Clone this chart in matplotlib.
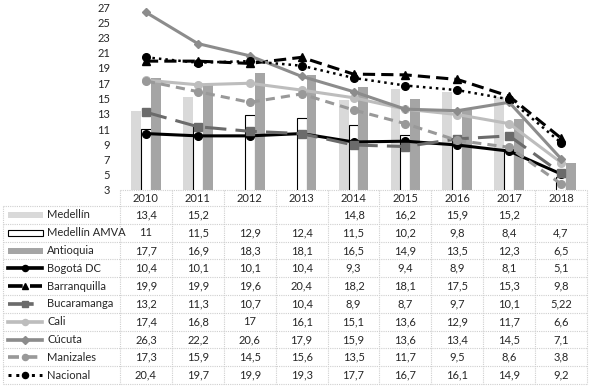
import matplotlib.pyplot as plt
import numpy as np
from matplotlib.patches import Rectangle

nan = np.nan
years = ["2010", "2011", "2012", "2013", "2014", "2015", "2016", "2017", "2018"]

medellin = [13.4, 15.2, nan, nan, 14.8, 16.2, 15.9, 15.2, nan]
medellin_amva = [11, 11.5, 12.9, 12.4, 11.5, 10.2, 9.8, 8.4, 4.7]
antioquia = [17.7, 16.9, 18.3, 18.1, 16.5, 14.9, 13.5, 12.3, 6.5]
bogota = [10.4, 10.1, 10.1, 10.4, 9.3, 9.4, 8.9, 8.1, 5.1]
barranquilla = [19.9, 19.9, 19.6, 20.4, 18.2, 18.1, 17.5, 15.3, 9.8]
bucaramanga = [13.2, 11.3, 10.7, 10.4, 8.9, 8.7, 9.7, 10.1, 5.22]
cali = [17.4, 16.8, 17, 16.1, 15.1, 13.6, 12.9, 11.7, 6.6]
cucuta = [26.3, 22.2, 20.6, 17.9, 15.9, 13.6, 13.4, 14.5, 7.1]
manizales = [17.3, 15.9, 14.5, 15.6, 13.5, 11.7, 9.5, 8.6, 3.8]
nacional = [20.4, 19.7, 19.9, 19.3, 17.7, 16.7, 16.1, 14.9, 9.2]

plt.rcParams["font.family"] = ["Lato", "DejaVu Sans"]
txt_color = "#262626"
grid_color = "#cfcfcf"
fs = 8

W, H = 589, 389
fig = plt.figure(figsize=(W / 100, H / 100), dpi=100)
left, right, top, bottom = 120, 587, 7, 190
ax = fig.add_axes([left / W, 1 - bottom / H, (right - left) / W, (bottom - top) / H])

x = np.arange(len(years))
bw = 0.19

# Bars
bar_styles = [
    ("Medellín", medellin, dict(facecolor="#d9d9d9", edgecolor="none")),
    ("Medellín AMVA", medellin_amva, dict(facecolor="white", edgecolor="black", linewidth=0.8)),
    ("Antioquia", antioquia, dict(facecolor="#a5a5a5", edgecolor="none")),
]
for i, (name, vals, st) in enumerate(bar_styles):
    ax.bar(x + (i - 1) * bw, vals, bw, zorder=1, **st)

# Lines
line_styles = [
    ("Bogotá DC", bogota, dict(color="black", lw=2.2, marker="o", ms=5.5)),
    ("Barranquilla", barranquilla, dict(color="black", lw=2.2, dashes=(4, 2), marker="^", ms=6)),
    ("Bucaramanga", bucaramanga, dict(color="#6b6b6b", lw=2.2, dashes=(7, 3), marker="s", ms=5.5)),
    ("Cali", cali, dict(color="#bdbdbd", lw=2.2, marker="o", ms=5.5)),
    ("Cúcuta", cucuta, dict(color="#8c8c8c", lw=2.2, marker="D", ms=4.5)),
    ("Manizales", manizales, dict(color="#999999", lw=2.2, dashes=(3, 2), marker="o", ms=5.5)),
    ("Nacional", nacional, dict(color="black", lw=1.8, dashes=(1, 1.6), marker="o", ms=5.5)),
]
for name, vals, st in line_styles:
    ax.plot(x, vals, zorder=3, **st)

ax.set_xlim(-0.5, len(years) - 0.5)
ax.set_ylim(3, 27)
ax.set_yticks(range(3, 28, 2))
ax.set_xticks([])
ax.tick_params(axis="y", length=0, labelsize=fs, labelcolor=txt_color, pad=7)
for s in ax.spines.values():
    s.set_visible(False)
ax.patch.set_alpha(0)

# Data table
tab = fig.add_axes([0, 0, 1, 1])
tab.set_xlim(0, W)
tab.set_ylim(H, 0)
tab.axis("off")

cw = (right - left) / len(years)
head_top, head_bot = bottom, 206
rh = (384 - head_bot) / 10
tleft = 3
gl = dict(color=grid_color, lw=0.8, ls=(0, (1, 1)))

tab.plot([left, right], [head_top, head_top], **gl)
for r in range(11):
    yy = head_bot + r * rh
    tab.plot([tleft, right], [yy, yy], **gl)
for c in range(len(years) + 1):
    xx = left + c * cw
    tab.plot([xx, xx], [head_top, head_bot + 10 * rh], **gl)
tab.plot([tleft, tleft], [head_bot, head_bot + 10 * rh], **gl)

for c, yr in enumerate(years):
    tab.text(left + (c + 0.5) * cw, (head_top + head_bot) / 2, yr,
             ha="center", va="center", fontsize=fs, color=txt_color)

def fmt(v):
    return "" if np.isnan(v) else f"{v:g}".replace(".", ",")

rows = [(n, v, st, "bar") for n, v, st in bar_styles] + \
       [(n, v, st, "line") for n, v, st in line_styles]
for r, (name, vals, st, kind) in enumerate(rows):
    yc = head_bot + (r + 0.5) * rh
    if kind == "bar":
        tab.add_patch(Rectangle((8, yc - 3), 35, 6, **st))
    else:
        kst = dict(st)
        kst["ms"] = st["ms"] * 0.8
        kst["lw"] = st["lw"] * 1.2
        tab.plot([8, 25, 42], [yc, yc, yc], markevery=[1], **kst)
    tab.text(47, yc, name, ha="left", va="center", fontsize=fs, color=txt_color)
    for c, v in enumerate(vals):
        tab.text(left + (c + 0.5) * cw, yc, fmt(v), ha="center", va="center",
                 fontsize=fs, color=txt_color)

fig.savefig("out.png", dpi=100)
